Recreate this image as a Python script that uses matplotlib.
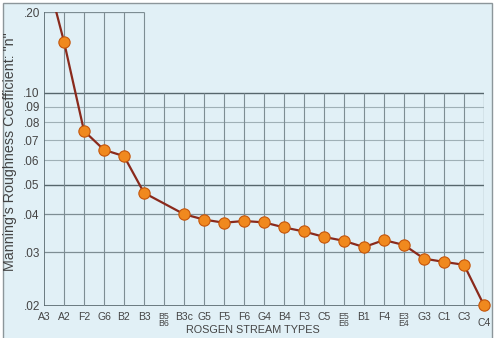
import matplotlib.pyplot as plt
import numpy as np
from matplotlib.patches import Rectangle
import matplotlib.transforms as mtransforms

plt.rcParams["font.family"] = ["Liberation Sans", "DejaVu Sans"]

# Rosgen stream types along the x axis
stream_types = ["A3", "A2", "F2", "G6", "B2", "B3", "B5\nB6", "B3c", "G5", "F5", "F6",
                "G4", "B4", "F3", "C5", "E5\nE6", "B1", "F4", "E3\nE4", "G3", "C1", "C3", "C4"]
# Manning's n (None = no point plotted)
manning_n = [0.30, 0.155, 0.075, 0.065, 0.062, 0.047, None, 0.040, 0.0384, 0.0375, 0.038,
             0.0376, 0.0362, 0.0351, 0.0337, 0.0327, 0.0312, 0.0329, 0.0317, 0.0286, 0.0279, 0.0273, 0.0201]
marker_shown = [False, True, True, True, True, True, False, True, True, True, True,
                True, True, True, True, True, True, True, True, True, True, True, True]
y_ticks = [0.02, 0.03, 0.04, 0.05, 0.06, 0.07, 0.08, 0.09, 0.10, 0.20]
y_tick_labels = [".02", ".03", ".04", ".05", ".06", ".07", ".08", ".09", ".10", ".20"]

BG = "#e1f0f6"
GRID_DARK = "#56666c"
GRID_MID = "#7d8d93"
GRID_LIGHT = "#9fb0b6"
LINE = "#8a2a1c"
MARK = "#f0891e"
MARK_EDGE = "#c4560c"
TXT = "#444444"

UPPER_K = 0.88  # upper decade (.10-.20) is drawn compressed on the original


def fwd(y):
    l = np.log10(np.clip(y, 1e-6, None))
    return np.where(l <= -1, l, -1 + (l + 1) * UPPER_K)


def inv(v):
    v = np.asarray(v, dtype=float)
    return np.where(v <= -1, 10 ** v, 10 ** (-1 + (v + 1) / UPPER_K))


fig = plt.figure(figsize=(4.96, 3.38), dpi=100)
fig.patch.set_facecolor("white")
fig.patches.append(Rectangle((3 / 496, -0.02), 489 / 496, 1 - 3 / 338 + 0.02,
                             transform=fig.transFigure, facecolor=BG,
                             edgecolor="#8c969a", linewidth=1.0, zorder=-10))

ax = fig.add_axes([44 / 496, 1 - 306 / 338, 440 / 496, 294 / 338])
ax.set_zorder(1)
ax.set_facecolor("none")
ax.set_yscale("function", functions=(fwd, inv))
ax.set_xlim(0, len(stream_types) - 1)
ax.set_ylim(0.02, 0.20)
for s in ax.spines.values():
    s.set_visible(False)

x = np.arange(len(stream_types))
n_last = len(stream_types) - 1
upper_cols = 5  # grid continues above .10 only up to B3

# grid
for v in y_ticks[:-1]:
    if v in (0.02,):
        c, lw = GRID_DARK, 1.2
    elif v in (0.10, 0.05):
        c, lw = GRID_DARK, 1.0
    elif v in (0.03, 0.04):
        c, lw = GRID_MID, 0.9
    else:
        c, lw = GRID_LIGHT, 0.8
    ax.hlines(v, 0, n_last, color=c, linewidth=lw, zorder=1)
ax.hlines(0.20, 0, upper_cols, color=GRID_MID, linewidth=0.9, zorder=1)
ax.vlines(x[1:n_last], 0.02, 0.10, color=GRID_MID, linewidth=0.8, zorder=1)
ax.vlines(x[1:upper_cols + 1], 0.10, 0.20, color=GRID_MID, linewidth=0.8, zorder=1)
ax.vlines(0, 0.02, 0.20, color=GRID_DARK, linewidth=1.2, zorder=1)
ax.vlines(n_last, 0.02, 0.10, color=GRID_MID, linewidth=0.9, zorder=1)

# data line and markers
xs = [i for i, v in enumerate(manning_n) if v is not None]
ys = [v for v in manning_n if v is not None]
ax.plot(xs, ys, color=LINE, linewidth=1.6, zorder=3)
mx = [i for i in range(len(stream_types)) if marker_shown[i]]
my = [manning_n[i] for i in mx]
ax.scatter(mx, my, s=66, color=MARK, edgecolor=MARK_EDGE, linewidth=0.8, zorder=4, clip_on=False)

# ticks
ax.set_yticks(y_ticks)
ax.set_yticklabels(y_tick_labels, fontsize=8.5, color=TXT)
ax.yaxis.set_minor_locator(plt.NullLocator())
ax.tick_params(axis="y", length=0, pad=3)
ax.set_xticks([])

trans = mtransforms.blended_transform_factory(ax.transData, ax.transAxes)
for i, lab in enumerate(stream_types):
    if "\n" in lab:
        ax.text(i, -0.02, lab, transform=trans, ha="center", va="top",
                fontsize=6.3, linespacing=0.75, color=TXT)
    elif lab == "C4":
        ax.text(i, -0.04, lab, transform=trans, ha="center", va="top",
                fontsize=7.5, color=TXT)
    else:
        ax.text(i, -0.02, lab, transform=trans, ha="center", va="top",
                fontsize=7.5, color=TXT)

fig.text(253 / 496, 1 - 330 / 338, "ROSGEN STREAM TYPES", ha="center", va="center",
         fontsize=7.8, color=TXT)
fig.text(10 / 496, 1 - 152 / 338, "Manning's Roughness Coefficient: \"n\"", rotation=90,
         ha="center", va="center", fontsize=10.3, color=TXT)

fig.savefig("out.png", dpi=100)
